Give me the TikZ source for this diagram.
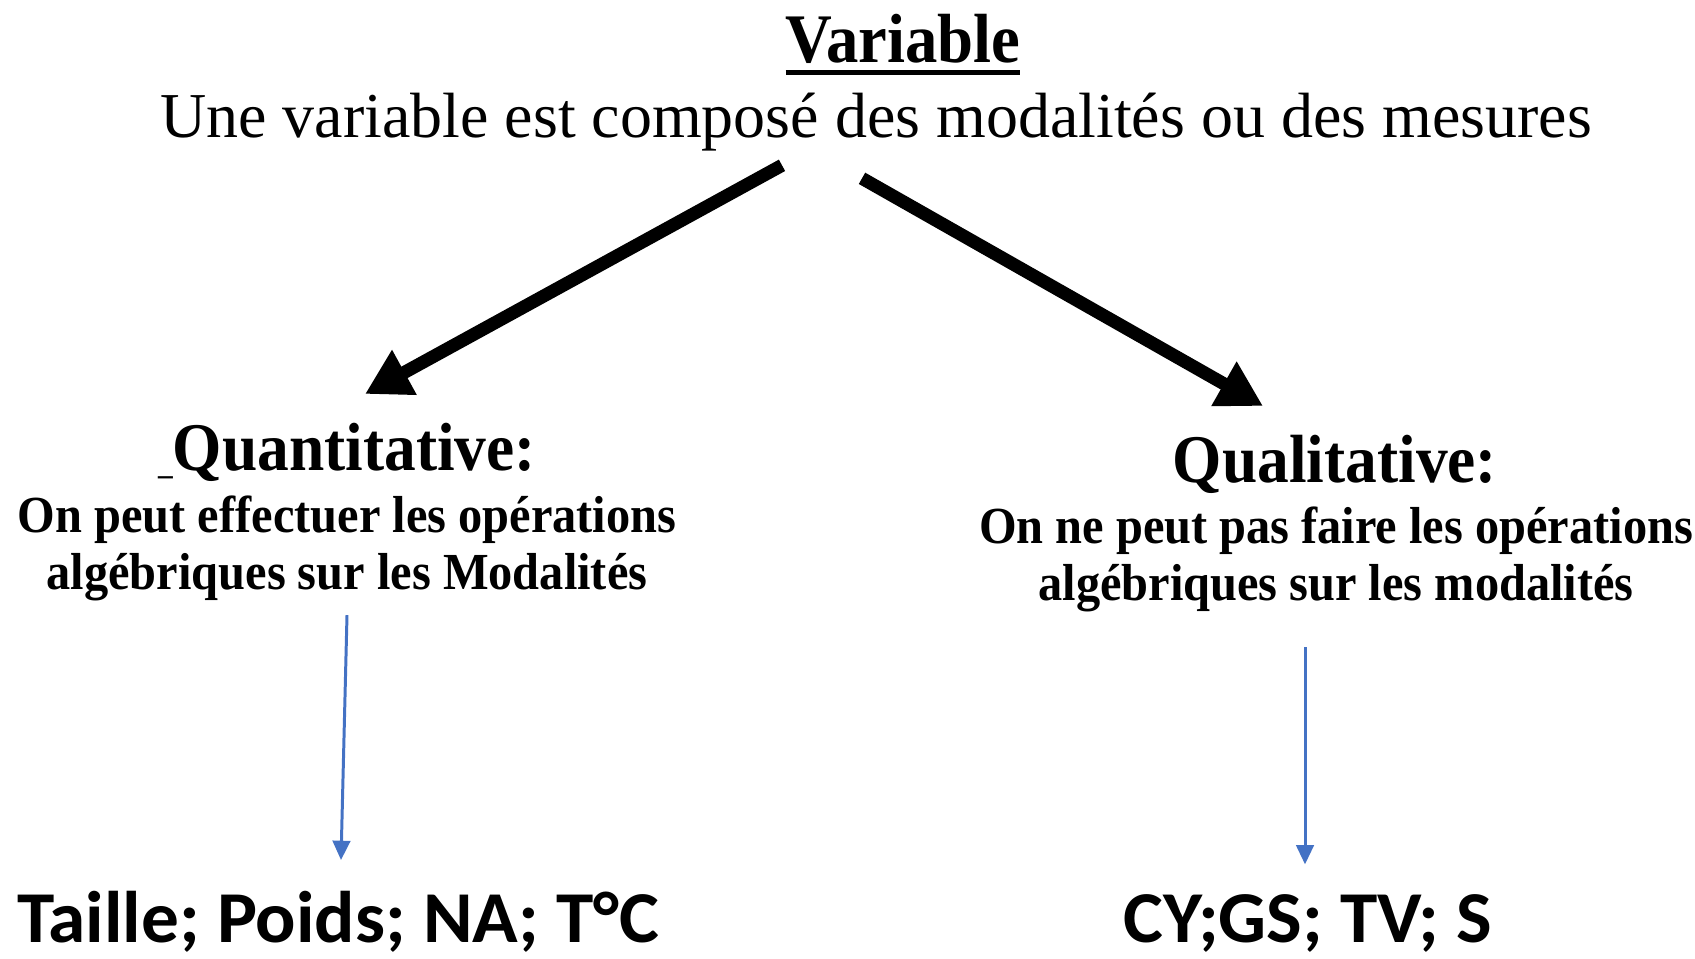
\documentclass[tikz,border=0pt]{standalone}
\usepackage{fontspec}
\setmainfont{Liberation Serif}
\newfontfamily\condserif{Liberation Serif}[FakeStretch=0.93]
\newfontfamily\calibri{Carlito}[FakeStretch=1.03]
\usetikzlibrary{arrows.meta}
\definecolor{linkblue}{RGB}{68,114,196}
\newsavebox{\ulbox}
\newcommand{\thickul}[1]{\sbox{\ulbox}{#1}\rlap{\rule[-3.8pt]{\wd\ulbox}{1.4pt}}\usebox{\ulbox}}
\newcommand{\smallbar}{\raisebox{-1.2pt}{\fontsize{9}{9}\selectfont\_}}
\begin{document}
\begin{tikzpicture}[
  lbl/.style={inner sep=0pt, anchor=base},
  headtxt/.style={lbl, font=\condserif\bfseries\fontsize{19.4}{22}\selectfont},
  desctxt/.style={lbl, align=center, font=\condserif\bfseries\fontsize{14.8}{16}\selectfont},
  extxt/.style={lbl, font=\calibri\bfseries\fontsize{20.8}{24}\selectfont},
  bigarrow/.style={line width=3.7pt, -{Triangle[length=12.8pt,width=13.7pt]}},
  thinarrow/.style={linkblue, line width=0.85pt, -{Triangle[length=5.5pt,width=5pt]}}]
  \useasboundingbox (0,0) rectangle (16.95,-9.58);
  \node[lbl, font=\condserif\bfseries\fontsize{19.8}{22}\selectfont] at (9.03,-0.62) (title) {\thickul{Variable}};
  \node[lbl, font=\fontsize{18.2}{21}\selectfont] at (8.76,-1.37) (sub) {Une variable est composé des modalités ou des mesures};
  \node[headtxt] at (3.47,-4.70) (quant) {\smallbar Quantitative:};
  \node[desctxt] at (3.47,-5.89) (quantdesc) {On peut effectuer les opérations\\algébriques sur les Modalités};
  \node[headtxt] at (13.35,-4.82) (qual) {Qualitative:};
  \node[desctxt] at (13.36,-6.00) (qualdesc) {On ne peut pas faire les opérations\\algébriques sur les modalités};
  \node[extxt] at (3.38,-9.42) (quantex) {Taille; Poids; NA; T°C};
  \node[extxt] at (13.08,-9.42) (qualex) {CY;GS; TV; S};
  \draw[bigarrow] ([xshift=-0.94cm,yshift=-0.14cm]sub.south) -- ([xshift=0.18cm,yshift=0.28cm]quant.north);
  \draw[bigarrow] ([xshift=-0.14cm,yshift=-0.27cm]sub.south) -- ([xshift=-0.72cm,yshift=0.28cm]qual.north);
  \draw[thinarrow] ([yshift=-0.14cm]quantdesc.south) -- ([xshift=0.03cm,yshift=0.30cm]quantex.north);
  \draw[thinarrow] ([xshift=-0.31cm,yshift=-0.35cm]qualdesc.south) -- ([xshift=-0.03cm,yshift=0.29cm]qualex.north);
\end{tikzpicture}
\end{document}
